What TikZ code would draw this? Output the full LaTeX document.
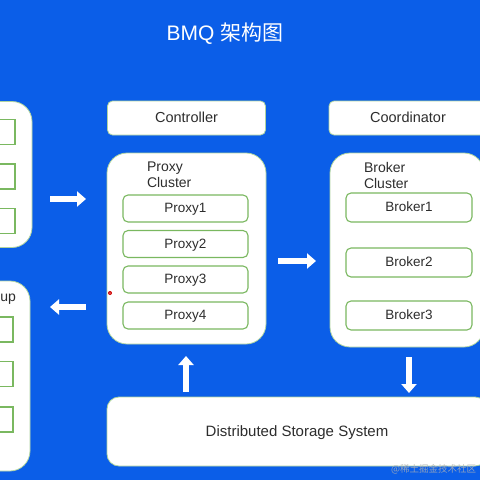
\documentclass[tikz,border=0pt]{standalone}
\usepackage{fontspec}
\setmainfont{Liberation Sans}
\newfontfamily\cjk{Noto Sans CJK SC}
\usetikzlibrary{arrows.meta}
\definecolor{bgblue}{RGB}{11,94,232}
\definecolor{edgegreen}{RGB}{122,184,96}
\definecolor{txt}{RGB}{45,45,45}
\begin{document}
\begin{tikzpicture}[x=1pt,y=-1pt,
  every node/.style={inner sep=0pt, outer sep=0pt, text=txt, font=\fontsize{13.5}{16}\selectfont},
  panel/.style={draw=edgegreen!60!white, line width=0.8pt, fill=white, rounded corners=20pt},
  topbox/.style={draw=edgegreen!60!white, line width=0.8pt, fill=white, rounded corners=5pt, minimum width=158pt, minimum height=34pt, font=\fontsize{14.5}{17}\selectfont, text height=10.5pt, text depth=1pt},
  item/.style={draw=edgegreen, line width=1.1pt, fill=white, rounded corners=5pt, minimum width=125pt, minimum height=27pt, text height=10pt, text depth=1.5pt},
  sq/.style={draw=edgegreen, line width=1.1pt, fill=white, minimum width=27pt, minimum height=25pt},
  blockarrow/.style={draw=white, line width=6pt, -{Triangle[width=15pt,length=9pt]}}
]
\useasboundingbox (0,0) rectangle (480,480);
\clip (0,0) rectangle (480,480);
\fill[bgblue] (0,0) rectangle (480,480);

% title
\node[text=white, font=\fontsize{21}{24}\selectfont] (title) at (225,34) {BMQ {\cjk 架构图}};

% left panels (partly off the picture)
\node[panel, minimum width=56pt, minimum height=146pt] (lefttop) at (4,174.5) {};
\node[sq] (lt1) at (1.5,132) {};
\node[sq] (lt2) at (1.5,176.5) {};
\node[sq] (lt3) at (1.5,221) {};

\node[panel, minimum width=54pt, minimum height=190pt] (leftbot) at (3,376) {};
\node[anchor=east, font=\fontsize{14}{16}\selectfont] (uptext) at (16,299) {up};
\node[sq, minimum width=25pt] (lb1) at (0.5,329.5) {};
\node[sq, minimum width=25pt] (lb2) at (0.5,374) {};
\node[sq, minimum width=25pt] (lb3) at (0.5,419.5) {};

% top boxes
\node[topbox] (controller) at (186.5,118) {Controller};
\node[topbox] (coordinator) at (408,118) {Coordinator};

% proxy cluster
\node[panel, minimum width=159pt, minimum height=191pt] (proxycl) at (186.5,248.5) {};
\node[anchor=north west, align=left, font=\fontsize{14}{16}\selectfont] (proxylbl) at (147,162) {Proxy\\Cluster};
\node[item] (p1) at (185.5,208.5) {Proxy1};
\node[item] (p2) at (185.5,244) {Proxy2};
\node[item] (p3) at (185.5,279.5) {Proxy3};
\node[item] (p4) at (185.5,315.5) {Proxy4};

% broker cluster
\node[panel, minimum width=154pt, minimum height=194pt] (brokercl) at (407,250) {};
\node[anchor=north west, align=left, font=\fontsize{14}{16}\selectfont] (brokerlbl) at (364,162) {Broker\\Cluster};
\node[item, minimum width=126pt, minimum height=29pt] (b1) at (409,207.5) {Broker1};
\node[item, minimum width=126pt, minimum height=29pt] (b2) at (409,262.5) {Broker2};
\node[item, minimum width=126pt, minimum height=29pt] (b3) at (409,315.5) {Broker3};

% storage
\node[draw=edgegreen!60!white, line width=0.8pt, fill=white, rounded corners=12pt, minimum width=380pt, minimum height=69pt, font=\fontsize{15}{18}\selectfont, text height=11pt, text depth=1pt] (storage) at (297,431.5) {Distributed Storage System};

% arrow end points
\coordinate (a1s) at (50,199);  \coordinate (a1e) at (86,199);
\coordinate (a2s) at (86,307);  \coordinate (a2e) at (50,307);
\coordinate (a3s) at (278,261); \coordinate (a3e) at (316,261);
\coordinate (a4s) at (186,392); \coordinate (a4e) at (186,356);
\coordinate (a5s) at (409,357); \coordinate (a5e) at (409,393);
\draw[blockarrow] (a1s) -- (a1e);
\draw[blockarrow] (a2s) -- (a2e);
\draw[blockarrow] (a3s) -- (a3e);
\draw[blockarrow] (a4s) -- (a4e);
\draw[blockarrow] (a5s) -- (a5e);

% pointer dot
\fill[red!80!black] (110,293) circle (2pt);
\fill[red!40!white, opacity=0.6] (110,293) circle (1pt);

% watermark
\node[text=gray!60!white, opacity=0.8, font=\cjk\fontsize{9.5}{11}\selectfont, anchor=east] (wm) at (476,469) {@稀土掘金技术社区};
\end{tikzpicture}
\end{document}
